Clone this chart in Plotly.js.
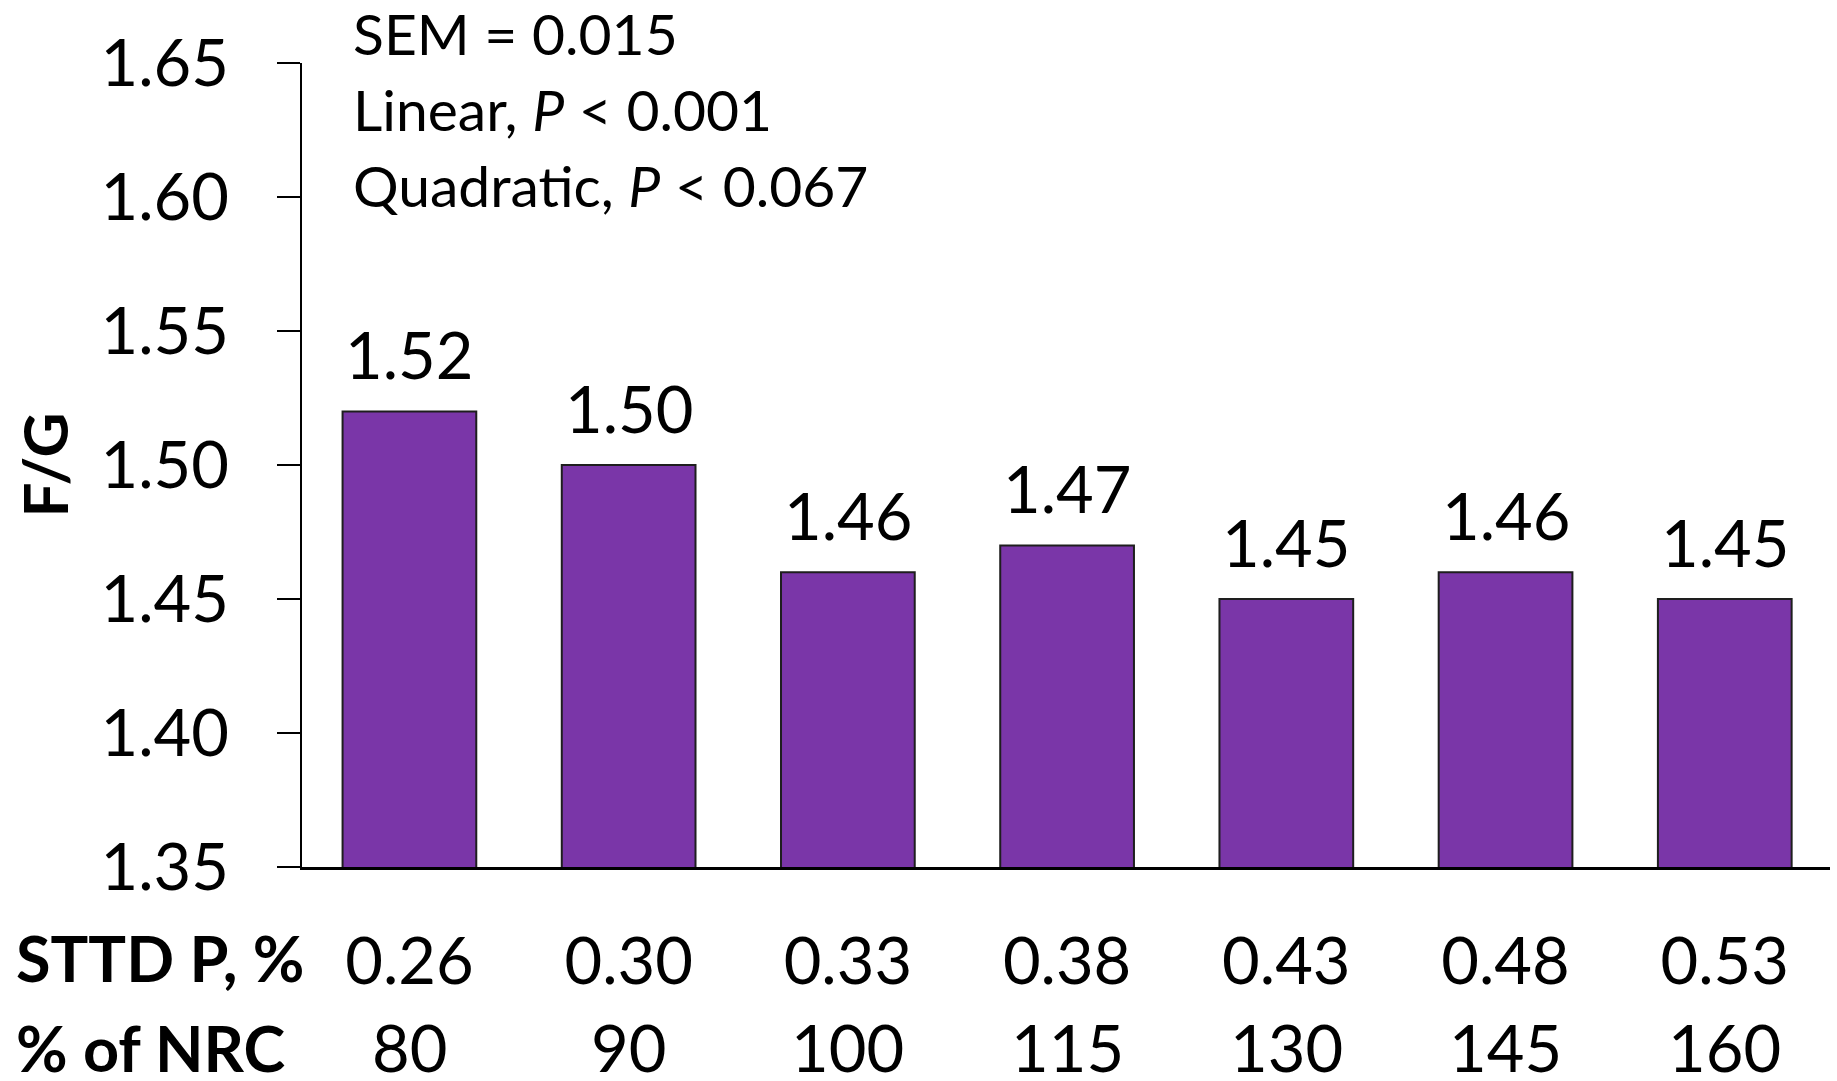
<!DOCTYPE html>
<html>
<head>
<meta charset="utf-8">
<script src="https://cdn.plot.ly/plotly-3.0.1.min.js"></script>
<style>html,body{margin:0;padding:0;background:#fff;}#chart{width:1837px;height:1081px;}</style>
</head>
<body>
<div id="chart"></div>
<script>
// ---- data ----
const sttdP = ["0.26", "0.30", "0.33", "0.38", "0.43", "0.48", "0.53"];
const pctNRC = ["80", "90", "100", "115", "130", "145", "160"];
const fg = [1.52, 1.50, 1.46, 1.47, 1.45, 1.46, 1.45];
const yTicks = [1.35, 1.40, 1.45, 1.50, 1.55, 1.60, 1.65];
const statLines = ["SEM = 0.015", "Linear, <i>P</i> < 0.001", "Quadratic, <i>P</i> < 0.067"];
const rowLabels = ["STTD P, %", "% of NRC"];

const FONT = "Lato, 'Open Sans', sans-serif";
const BAR = "#7A36A8";
const NUM = 65;

const trace = {
  type: "bar",
  x: sttdP,
  y: fg,
  marker: { color: BAR, line: { color: "#1e1e1e", width: 2 } },
  hoverinfo: "x+y",
  showlegend: false
};

const annotations = [];
// value labels above bars (x given as category index)
fg.forEach((v, i) => {
  annotations.push({
    xref: "x", yref: "y", x: i, y: v,
    text: v.toFixed(2), showarrow: false,
    xanchor: "center", yanchor: "bottom", yshift: 16,
    font: { family: FONT, size: NUM, color: "#000" }
  });
});
// second row: % of NRC
pctNRC.forEach((t, i) => {
  annotations.push({
    xref: "x", yref: "paper", x: i, y: -0.224,
    text: t, showarrow: false, xanchor: "center", yanchor: "middle",
    font: { family: FONT, size: NUM, color: "#000" }
  });
});
// row labels
const rowY = [-0.113, -0.224];
rowLabels.forEach((t, i) => {
  annotations.push({
    xref: "paper", yref: "paper", x: -0.1885, y: rowY[i],
    text: "<b>" + t + "</b>", showarrow: false, xanchor: "left", yanchor: "middle",
    font: { family: FONT, size: 63, color: "#000" }
  });
});
// statistics text
const statY = [1.037, 0.943, 0.848];
statLines.forEach((t, i) => {
  annotations.push({
    xref: "paper", yref: "paper", x: 0.032, y: statY[i],
    text: t, showarrow: false, xanchor: "left", yanchor: "middle",
    font: { family: FONT, size: 57, color: "#000" }
  });
});

const layout = {
  width: 1837, height: 1081,
  margin: { l: 302, r: 7, t: 63, b: 214, pad: 0 },
  paper_bgcolor: "#fff", plot_bgcolor: "#fff",
  bargap: 0.39,
  font: { family: FONT, color: "#000" },
  xaxis: {
    type: "category",
    range: [-0.49, 6.48],
    showline: true, linecolor: "#000", linewidth: 3,
    ticks: "", showgrid: false, zeroline: false,
    tickfont: { family: FONT, size: NUM, color: "#000" },
    ticklabelstandoff: 36
  },
  yaxis: {
    range: [1.35, 1.65],
    tickvals: yTicks,
    ticktext: yTicks.map(v => v.toFixed(2)),
    showline: true, linecolor: "#000", linewidth: 2,
    ticks: "outside", ticklen: 23, tickwidth: 2, tickcolor: "#000",
    showgrid: false, zeroline: false,
    tickfont: { family: FONT, size: NUM, color: "#000" },
    ticklabelstandoff: 35,
    title: { text: "<b>F/G</b>", standoff: 12, font: { family: FONT, size: 62, color: "#000" } }
  },
  annotations: annotations
};

Plotly.newPlot("chart", [trace], layout, { displayModeBar: false, staticPlot: true });
</script>
</body>
</html>
